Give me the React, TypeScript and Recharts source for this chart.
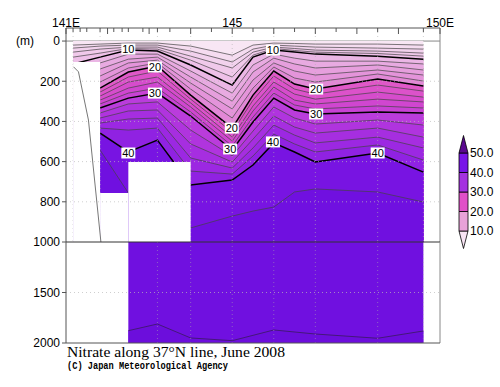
import React from 'react';
import {
  ComposedChart, Area, Line, Scatter, XAxis, YAxis, ReferenceArea, ReferenceLine, BarChart, Bar,
} from 'recharts';

// ---- station longitudes (upper section, 0-1000 m)
const LONS = [141.17, 141.82, 142.5, 143.2, 144.0, 145.0, 145.5, 146.0, 146.5, 147.0, 148.5, 149.6];

// ---- depth (m) of each nitrate contour at each station
const N02 = [20, 15, 10, 10, 25, 70, 20, 10, 12, 15, 15, 20];
const N04 = [35, 25, 20, 20, 50, 104, 40, 20, 25, 30, 35, 40];
const N06 = [55, 40, 30, 30, 75, 134, 55, 30, 37, 45, 50, 60];
const N08 = [80, 60, 37, 40, 95, 179, 70, 37, 47, 55, 62, 75];
const N10 = [114, 80, 45, 50, 119, 219, 80, 45, 55, 65, 75, 90];
const N12 = [144, 109, 65, 65, 149, 259, 119, 65, 85, 100, 100, 114];
const N14 = [174, 139, 90, 80, 179, 299, 154, 85, 114, 134, 119, 144];
const N16 = [209, 174, 109, 95, 209, 338, 194, 109, 149, 169, 144, 169];
const N18 = [239, 204, 134, 109, 239, 383, 234, 129, 184, 204, 164, 199];
const N20 = [269, 234, 154, 124, 269, 433, 269, 149, 214, 239, 189, 224];
const N22 = [289, 254, 179, 149, 289, 453, 294, 174, 239, 264, 219, 249];
const N24 = [308, 274, 204, 179, 308, 478, 323, 204, 264, 289, 254, 279];
const N26 = [328, 294, 234, 204, 328, 498, 348, 229, 294, 313, 289, 303];
const N28 = [348, 313, 259, 234, 353, 522, 378, 259, 318, 338, 323, 333];
const N30 = [368, 333, 284, 259, 373, 542, 403, 284, 343, 363, 353, 358];
const N32 = [393, 358, 313, 303, 443, 572, 448, 328, 383, 413, 393, 418];
const N34 = [418, 383, 348, 343, 512, 602, 488, 373, 428, 458, 433, 478];
const N36 = [443, 408, 388, 383, 582, 632, 532, 418, 468, 507, 478, 532];
const N38 = [468, 433, 443, 433, 647, 662, 572, 463, 512, 552, 517, 592];
const N40 = [493, 458, 552, 493, 716, 692, 617, 507, 552, 602, 557, 652];
const N42 = [542, 542, 756, 791, 930, 871, 846, 826, 751, 736, 751, 801];

const CONTOURS = [N02, N04, N06, N08, N10, N12, N14, N16, N18, N20, N22, N24, N26, N28, N30, N32, N34, N36, N38, N40, N42];
const LEVELS = [2, 4, 6, 8, 10, 12, 14, 16, 18, 20, 22, 24, 26, 28, 30, 32, 34, 36, 38, 40, 42];
const SURFACE_FILL = '#f8e6f4';
const BAND_FILLS = [
  '#f5dcf0', '#f2d2ed', '#f0c9ea', '#eec0e8', '#ebb6e5', '#e8aae1', '#e69fdd', '#e494da', '#e288d6',
  '#e058c8', '#dc52ca', '#d64ccc', '#d046d0', '#c842d4', '#ba3cdc', '#b034de', '#a62ee0', '#9c28e2',
  '#9022e2', '#7814e2', '#7010e0',
];

// ---- deep section (1000-2000 m)
const DEEP_LONS = [142.5, 143.2, 144.0, 145.0, 146.0, 147.0, 148.5, 149.6];
const N44 = [1878, 1812, 1950, 1977, 1871, 1911, 1953, 1881];
const DEEP_FILL_TOP = '#7010e0';
const DEEP_FILL_BOTTOM = '#6c0edc';

// ---- areas without data (lon range, depth range)
const MASKS = [
  { x1: 141.17, x2: 141.82, y1: 104, y2: 1000 },
  { x1: 141.82, x2: 142.5, y1: 756, y2: 1000 },
  { x1: 142.5, x2: 144.0, y1: 602, y2: 1000 },
];

// ---- sea-floor line near the coast
const BATHY = [
  { lon: 141.18, depth: 128 },
  { lon: 141.3, depth: 153 },
  { lon: 141.54, depth: 393 },
  { lon: 141.84, depth: 1000 },
];

// ---- contour labels
const LABELS = [
  { lon: 142.5, depth: 40, text: '10' },
  { lon: 145.98, depth: 45, text: '10' },
  { lon: 143.14, depth: 129, text: '20' },
  { lon: 144.99, depth: 433, text: '20' },
  { lon: 147.02, depth: 239, text: '20' },
  { lon: 143.14, depth: 259, text: '30' },
  { lon: 144.95, depth: 537, text: '30' },
  { lon: 147.02, depth: 363, text: '30' },
  { lon: 142.5, depth: 557, text: '40' },
  { lon: 145.98, depth: 502, text: '40' },
  { lon: 148.5, depth: 557, text: '40' },
];

// ---- axes
const TOP_TICKS = [141, 141.17, 141.34, 141.5, 141.82, 142, 142.15, 142.35, 142.5, 142.85, 143, 143.2, 143.5,
  144, 144.5, 145, 145.5, 146, 146.5, 147, 147.5, 148, 148.5, 149, 149.6, 150];
const TOP_LABELS: Record<string, string> = { '141': '141E', '145': '145', '150': '150E' };
const UPPER_TICKS = [0, 200, 400, 600, 800, 1000];
const LOWER_TICKS = [1500, 2000];
const STATION_LINES = [141.17, 141.82, 143.2, 144, 145, 146, 147, 148.5, 149.6];
const DEEP_STATION_LINES = [143.2, 144, 145, 146, 147, 148.5, 149.6];
const H_GRID_UPPER = [200, 400, 600, 800];
const H_GRID_LOWER = [1500];

// ---- colour bar
const CB_KEYS = ['b0', 'b1', 'b2', 'b3', 'b4', 'b5'];
const CB_SPANS = [10, 10, 10, 10, 10, 10];
const CB_COLORS = ['#f8e4f4', '#e8a2d8', '#e050c8', '#a432e0', '#7814e8', '#5a0890'];
const CB_TICKS = [10, 20, 30, 40, 50];

const FONT = 'Liberation Sans, Arial, sans-serif';
const AXIS = '#555';

const TopTick = (props: any) => {
  const { x, y, payload } = props;
  const v = payload.value;
  const major = Number.isInteger(v);
  const lab = TOP_LABELS[String(v)];
  const axisY = y + 2;
  return (
    <g>
      <line x1={x} x2={x} y1={axisY} y2={axisY + (major ? 6 : 4)} stroke={AXIS} strokeWidth={1} />
      {lab ? (
        <text x={x} y={axisY - 1.5} textAnchor="middle" fontSize={12} fontFamily={FONT} fill="#000">{lab}</text>
      ) : null}
    </g>
  );
};

const LabelShape = (props: any) => {
  const { cx, cy, payload } = props;
  if (cx == null || cy == null) return <g />;
  return (
    <g>
      <rect x={cx - 7} y={cy - 5.5} width={14} height={11} fill="#fff" />
      <text x={cx} y={cy + 4} textAnchor="middle" fontSize={11} fontFamily={FONT} fill="#000">{payload.text}</text>
    </g>
  );
};

const cbShape = (kind: 'down' | 'up' | 'rect') => (props: any) => {
  const { x, y, width, height, fill } = props;
  let pts = '';
  if (kind === 'down') pts = `${x},${y} ${x + width},${y} ${x + width / 2},${y + height - 2}`;
  else if (kind === 'up') pts = `${x},${y + height} ${x + width},${y + height} ${x + width / 2},${y + 2}`;
  else pts = `${x},${y} ${x + width},${y} ${x + width},${y + height} ${x},${y + height}`;
  return <polygon points={pts} fill={fill} stroke="#000" strokeWidth={0.8} />;
};

export default function App() {
  const rows = LONS.map((lon, i) => {
    const r: any = { lon, surf: 0 };
    LEVELS.forEach((lv, k) => { r['n' + lv] = CONTOURS[k][i]; });
    return r;
  });
  const deepRows = DEEP_LONS.map((lon, i) => ({ lon, top: 1000, n44: N44[i] }));
  const cbRow: any = { name: 'cb' };
  CB_KEYS.forEach((k, i) => { cbRow[k] = CB_SPANS[i]; });

  return (
    <div style={{ position: 'absolute', left: 0, top: 0, width: 500, height: 387, background: '#fff', overflow: 'hidden' }}>
      {/* upper section 0-1000 m */}
      <div style={{ position: 'absolute', left: 0, top: 0 }}>
        <ComposedChart width={500} height={250} data={rows} margin={{ top: 8, right: 60, bottom: 8, left: 16 }}>
          <XAxis dataKey="lon" type="number" orientation="top" domain={[141, 150]} ticks={TOP_TICKS} interval={0}
            height={20} tickSize={1} tickMargin={1} tickLine={false} axisLine={{ stroke: AXIS }} tick={<TopTick />} allowDataOverflow />
          <YAxis type="number" reversed domain={[-65, 1000]} ticks={UPPER_TICKS} interval={0} width={50} allowDataOverflow
            tickSize={4} tickMargin={2} axisLine={{ stroke: AXIS }} tickLine={{ stroke: AXIS }}
            tick={{ fontSize: 12, fontFamily: FONT, fill: '#000' }} />
          <ReferenceLine y={0} stroke="#888" zIndex={50} />
          <Area dataKey="surf" type="linear" baseValue={1000} fill={SURFACE_FILL} fillOpacity={1} stroke="none"
            isAnimationActive={false} dot={false} activeDot={false} />
          {LEVELS.map((lv, k) => {
            const bold = lv % 10 === 0;
            return (
              <Area key={lv} dataKey={'n' + lv} type="linear" baseValue={1000} fill={BAND_FILLS[k]} fillOpacity={1}
                stroke={bold ? '#000' : '#444'} strokeWidth={bold ? 1.5 : 0.7}
                isAnimationActive={false} dot={false} activeDot={false} />
            );
          })}
          {STATION_LINES.map((lon) => (
            <ReferenceLine key={'v' + lon} x={lon} stroke="#b0b0b0" strokeOpacity={0.6} strokeDasharray="1 3" zIndex={420} />
          ))}
          {MASKS.map((m, i) => (
            <ReferenceArea key={'m' + i} x1={m.x1} x2={m.x2} y1={m.y1} y2={m.y2} fill="#fff" fillOpacity={1} stroke="none" zIndex={450} />
          ))}
          {H_GRID_UPPER.map((d) => (
            <ReferenceLine key={'h' + d} y={d} stroke="#bbb" strokeOpacity={0.7} strokeDasharray="1 3" zIndex={460} />
          ))}
          <ReferenceLine x={150} stroke="#888" zIndex={470} />
          <Line data={BATHY} dataKey="depth" type="linear" stroke="#777" strokeWidth={1} dot={false} activeDot={false}
            isAnimationActive={false} zIndex={480} />
          <Scatter data={LABELS} dataKey="depth" shape={LabelShape} isAnimationActive={false} zIndex={600} />
        </ComposedChart>
      </div>

      {/* lower section 1000-2000 m */}
      <div style={{ position: 'absolute', left: 0, top: 232 }}>
        <ComposedChart width={500} height={120} data={deepRows} margin={{ top: 10, right: 60, bottom: 8, left: 16 }}>
          <XAxis dataKey="lon" type="number" domain={[141, 150]} height={1} tick={false} tickLine={false}
            axisLine={{ stroke: AXIS }} allowDataOverflow />
          <YAxis type="number" reversed domain={[1000, 2000]} ticks={LOWER_TICKS} interval={0} width={50} allowDataOverflow
            tickSize={4} tickMargin={2} axisLine={{ stroke: AXIS }} tickLine={{ stroke: AXIS }}
            tick={{ fontSize: 12, fontFamily: FONT, fill: '#000' }} />
          <Area dataKey="top" type="linear" baseValue={2000} fill={DEEP_FILL_TOP} fillOpacity={1} stroke="none"
            isAnimationActive={false} dot={false} activeDot={false} />
          <Area dataKey="n44" type="linear" baseValue={2000} fill={DEEP_FILL_BOTTOM} fillOpacity={1} stroke="#3a1a60" strokeWidth={0.8}
            isAnimationActive={false} dot={false} activeDot={false} />
          {DEEP_STATION_LINES.map((lon) => (
            <ReferenceLine key={'dv' + lon} x={lon} stroke="#b0b0b0" strokeOpacity={0.5} strokeDasharray="1 3" zIndex={420} />
          ))}
          {H_GRID_LOWER.map((d) => (
            <ReferenceLine key={'dh' + d} y={d} stroke="#bbb" strokeOpacity={0.7} strokeDasharray="1 3" zIndex={460} />
          ))}
          <ReferenceLine y={1000} stroke="#333" zIndex={470} />
          <ReferenceLine x={150} stroke="#888" zIndex={470} />
        </ComposedChart>
      </div>

      {/* colour bar */}
      <div style={{ position: 'absolute', left: 440, top: 120 }}>
        <BarChart width={60} height={135} data={[cbRow]} margin={{ top: 13.5, right: 0, bottom: 4.5, left: 19 }} barCategoryGap={0}>
          <XAxis dataKey="name" hide />
          <YAxis orientation="right" type="number" domain={[0, 60]} ticks={CB_TICKS} interval={0} width={32}
            axisLine={false} tickLine={false} tickSize={0} tickMargin={2}
            tickFormatter={(v: number) => v.toFixed(1)} tick={{ fontSize: 12, fontFamily: FONT, fill: '#000' }} />
          {CB_KEYS.map((k, i) => (
            <Bar key={k} dataKey={k} stackId="cb" fill={CB_COLORS[i]} isAnimationActive={false}
              shape={cbShape(i === 0 ? 'down' : i === CB_KEYS.length - 1 ? 'up' : 'rect')} />
          ))}
        </BarChart>
      </div>

      {/* texts */}
      <svg width={500} height={387} style={{ position: 'absolute', left: 0, top: 0, pointerEvents: 'none' }}>
        <text x={25} y={45} textAnchor="middle" fontSize={12} fontFamily={FONT} fill="#000">(m)</text>
        <text x={67} y={357} fontSize={14} fontFamily="Liberation Serif, serif" fill="#000" textLength={218} lengthAdjust="spacingAndGlyphs">Nitrate along 37°N line, June 2008</text>
        <text x={67} y={369} fontSize={10} fontWeight="bold" fontFamily="Liberation Mono, monospace" fill="#000" textLength={161} lengthAdjust="spacingAndGlyphs">(C) Japan Meteorological Agency</text>
      </svg>
    </div>
  );
}
